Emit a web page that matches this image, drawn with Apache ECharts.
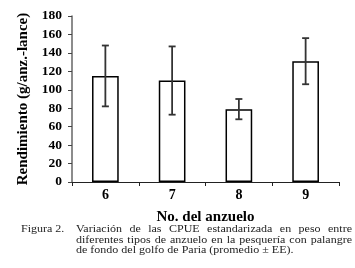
<!DOCTYPE html>
<html>
<head>
<meta charset="utf-8">
<script src="https://cdn.jsdelivr.net/npm/echarts@6/dist/echarts.min.js"></script>
<style>
  html, body { margin: 0; padding: 0; background: #fff; }
  #chart { width: 355px; height: 268px; }
</style>
</head>
<body>
<div id="chart"></div>
<script>
// datos
var anzuelos = ['6', '7', '8', '9'];
var promedio = [115, 110, 79, 131];
var errorEE = [33, 37, 11, 25];
var yTicks = [0, 20, 40, 60, 80, 100, 120, 140, 160, 180];

var serif = '"Liberation Serif", "Times New Roman", serif';

var myChart = echarts.init(document.getElementById('chart'), null, { renderer: 'canvas' });

// leyenda de la figura, justificada palabra por palabra (texto algo aplastado como en el escaneo)
var ctx = document.createElement('canvas').getContext('2d');
var capFont = '12px ' + serif;
var squash = 0.82;
ctx.font = capFont;
function capText(str, x, y) {
  return {
    type: 'text', x: x, y: y, scaleY: squash,
    style: { text: str, font: capFont, fill: '#222', textVerticalAlign: 'top' }
  };
}
function justifyLine(words, x0, x1, y, justify) {
  var widths = words.map(function (w) { return ctx.measureText(w).width; });
  var total = widths.reduce(function (a, b) { return a + b; }, 0);
  var gap = justify ? (x1 - x0 - total) / (words.length - 1) : ctx.measureText(' ').width;
  var x = x0, out = [];
  words.forEach(function (w, i) {
    out.push(capText(w, x, y));
    x += widths[i] + gap;
  });
  return out;
}
var caption = [capText('Figura 2.', 21, 224.5)]
  .concat(justifyLine('Variación de las CPUE estandarizada en peso entre'.split(' '), 76, 352, 224.5, true))
  .concat(justifyLine('diferentes tipos de anzuelo en la pesquería con palangre'.split(' '), 76, 352, 235, true))
  .concat(justifyLine('de fondo del golfo de Paria (promedio ± EE).'.split(' '), 76, 352, 245, false));

var option = {
  backgroundColor: '#fff',
  animation: false,
  grid: { left: 72, right: 16, top: 16, bottom: 86 },
  xAxis: {
    type: 'category',
    data: anzuelos,
    name: 'No. del anzuelo',
    nameLocation: 'middle',
    nameGap: 28,
    nameTextStyle: { fontFamily: serif, fontWeight: 'bold', fontSize: 15, color: '#000' },
    axisLine: { lineStyle: { color: '#222', width: 1 } },
    axisTick: { show: true, length: 4, lineStyle: { color: '#222' } },
    axisLabel: { margin: 6, fontFamily: serif, fontWeight: 'bold', fontSize: 14, color: '#000' }
  },
  yAxis: {
    type: 'value',
    min: yTicks[0],
    max: yTicks[yTicks.length - 1],
    interval: yTicks[1] - yTicks[0],
    name: 'Rendimiento (g/anz.-lance)',
    nameLocation: 'middle',
    nameRotate: 90,
    nameGap: 38,
    nameTextStyle: { fontFamily: serif, fontWeight: 'bold', fontSize: 15, color: '#000' },
    axisLine: { show: true, lineStyle: { color: '#666', width: 1.5 } },
    axisTick: { show: true, length: 4, lineStyle: { color: '#444' } },
    axisLabel: { margin: 10, fontFamily: serif, fontWeight: 'bold', fontSize: 13.5, color: '#000' },
    splitLine: { show: false }
  },
  series: [
    {
      type: 'bar',
      data: promedio,
      barWidth: '40%',
      itemStyle: { color: '#fff', borderColor: '#000', borderWidth: 1.5 }
    },
    {
      type: 'custom',
      data: promedio.map(function (v, i) { return [i, v - errorEE[i], v + errorEE[i]]; }),
      renderItem: function (params, api) {
        var lo = api.coord([api.value(0), api.value(1)]);
        var hi = api.coord([api.value(0), api.value(2)]);
        var cap = 3.5;
        var st = { stroke: '#333', lineWidth: 1.8 };
        return {
          type: 'group',
          children: [
            { type: 'line', shape: { x1: lo[0], y1: lo[1], x2: hi[0], y2: hi[1] }, style: st },
            { type: 'line', shape: { x1: lo[0] - cap, y1: lo[1], x2: lo[0] + cap, y2: lo[1] }, style: st },
            { type: 'line', shape: { x1: hi[0] - cap, y1: hi[1], x2: hi[0] + cap, y2: hi[1] }, style: st }
          ]
        };
      },
      z: 5
    }
  ],
  graphic: caption
};

myChart.setOption(option);
</script>
</body>
</html>
